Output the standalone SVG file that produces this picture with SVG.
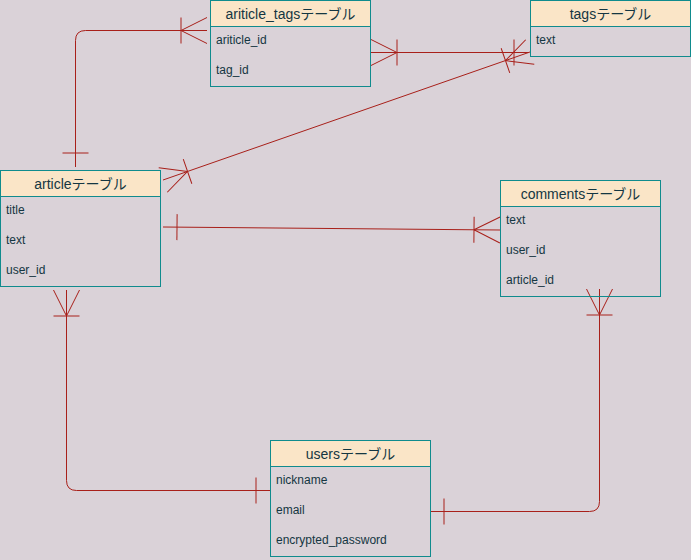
<svg xmlns="http://www.w3.org/2000/svg" width="691" height="560" viewBox="0 0 691 560">
<style>
.bg{fill:#DAD2D8}
.box{fill:none;stroke:#0F8B8D;stroke-width:1}
.hdr{fill:#FAE5C7;stroke:#0F8B8D;stroke-width:1}
.t{font-family:"Liberation Sans","Noto Sans CJK JP",sans-serif;fill:#143642}
.h{font-size:14px;text-anchor:middle}
.r{font-size:12px}
.e{fill:none;stroke:#A8201A;stroke-width:1}
</style>
<defs>
<marker id="oneMany" viewBox="-30 -15 32 30" markerWidth="32" markerHeight="30" refX="0" refY="0" orient="auto-start-reverse" markerUnits="userSpaceOnUse">
<path d="M-26,0 L0,-13 M-26,0 L0,13 M-26,-13 L-26,13" fill="none" stroke="#A8201A" stroke-width="1"/>
</marker>
<marker id="one" viewBox="-30 -15 32 30" markerWidth="32" markerHeight="30" refX="0" refY="0" orient="auto-start-reverse" markerUnits="userSpaceOnUse">
<path d="M-14,-13 L-14,13" fill="none" stroke="#A8201A" stroke-width="1"/>
</marker>
</defs>
<rect class="bg" x="0" y="0" width="691" height="560"/>
<g id="connectors">
<path class="e" d="M75.5,167 V40.5 Q75.5,30.5 85.5,30.5 H207" marker-start="url(#one)" marker-end="url(#oneMany)"/>
<path class="e" d="M371,52.5 L528,52.5" marker-start="url(#oneMany)" marker-end="url(#one)"/>
<path class="e" d="M163,180 L530,52" marker-start="url(#oneMany)" marker-end="url(#oneMany)"/>
<path class="e" d="M163,227 L500,230" marker-start="url(#one)" marker-end="url(#oneMany)"/>
<path class="e" d="M66.5,290 V480.5 Q66.5,490.5 76.5,490.5 H270" marker-start="url(#oneMany)" marker-end="url(#one)"/>
<path class="e" d="M599.5,289 V501.5 Q599.5,511.5 589.5,511.5 H430" marker-start="url(#oneMany)" marker-end="url(#one)"/>
</g>
<g id="ariticle_tags">
<rect class="box" x="210.5" y="0.5" width="160" height="86"/>
<rect class="hdr" x="210.5" y="0.5" width="160" height="26"/>
<text class="t h" x="290.5" y="19">ariticle_tagsテーブル</text>
<text class="t r" x="216" y="44">ariticle_id</text>
<text class="t r" x="216" y="74">tag_id</text>
</g>
<g id="tags">
<rect class="box" x="530.5" y="0.5" width="160" height="56"/>
<rect class="hdr" x="530.5" y="0.5" width="160" height="26"/>
<text class="t h" x="610.5" y="19">tagsテーブル</text>
<text class="t r" x="536" y="44">text</text>
</g>
<g id="article">
<rect class="box" x="0.5" y="170.5" width="160" height="116"/>
<rect class="hdr" x="0.5" y="170.5" width="160" height="26"/>
<text class="t h" x="80.5" y="189">articleテーブル</text>
<text class="t r" x="6" y="214">title</text>
<text class="t r" x="6" y="244">text</text>
<text class="t r" x="6" y="274">user_id</text>
</g>
<g id="comments">
<rect class="box" x="500.5" y="180.5" width="160" height="116"/>
<rect class="hdr" x="500.5" y="180.5" width="160" height="26"/>
<text class="t h" x="580.5" y="199">commentsテーブル</text>
<text class="t r" x="506" y="224">text</text>
<text class="t r" x="506" y="254">user_id</text>
<text class="t r" x="506" y="284">article_id</text>
</g>
<g id="users">
<rect class="box" x="270.5" y="440.5" width="160" height="116"/>
<rect class="hdr" x="270.5" y="440.5" width="160" height="26"/>
<text class="t h" x="350.5" y="459">usersテーブル</text>
<text class="t r" x="276" y="484">nickname</text>
<text class="t r" x="276" y="514">email</text>
<text class="t r" x="276" y="544">encrypted_password</text>
</g>
</svg>
